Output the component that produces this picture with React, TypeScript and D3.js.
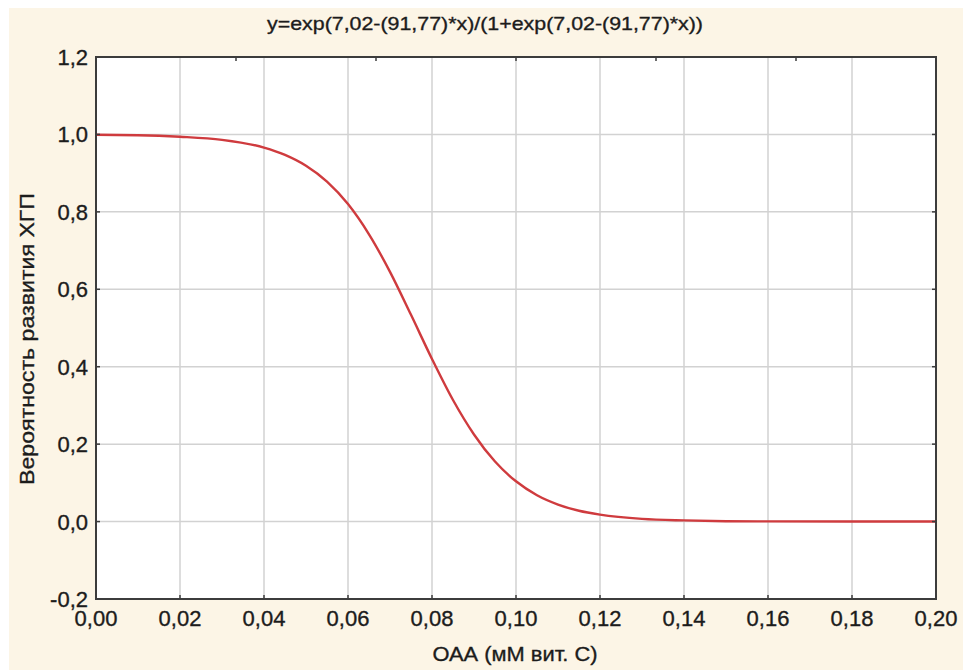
import React from "react";
import * as d3 from "d3";

// Probability curve samples (x = OAA, y = probability)
const xValues = [
  0, 0.01, 0.02, 0.03, 0.04, 0.045, 0.05, 0.055, 0.06, 0.065, 0.07, 0.075,
  0.08, 0.085, 0.09, 0.095, 0.1, 0.105, 0.11, 0.115, 0.12, 0.13, 0.14, 0.15,
  0.16, 0.18, 0.2,
];
const yValues = [
  0.999, 0.998, 0.994, 0.986, 0.966, 0.947, 0.919, 0.878, 0.82, 0.742, 0.645,
  0.534, 0.42, 0.314, 0.225, 0.155, 0.104, 0.068, 0.044, 0.028, 0.018, 0.007,
  0.003, 0.001, 0.0005, 0.0001, 0,
];

const xTicks = [0, 0.02, 0.04, 0.06, 0.08, 0.1, 0.12, 0.14, 0.16, 0.18, 0.2];
const yTicks = [-0.2, 0, 0.2, 0.4, 0.6, 0.8, 1.0, 1.2];
const topTicks = [1 / 30, 2 / 30, 3 / 30, 4 / 30, 5 / 30];

const titleText = "y=exp(7,02-(91,77)*x)/(1+exp(7,02-(91,77)*x))";
const xLabel = "ОАА (мМ вит. С)";
const yLabel = "Вероятность развития ХГП";

const W = 963;
const H = 671;
const plot = { left: 96, right: 936, top: 57, bottom: 599 };
const font = "'Liberation Sans', Arial, sans-serif";
const ink = "#1c1c1c";

export default function App() {
  const x = d3.scaleLinear().domain([0, 0.2]).range([plot.left, plot.right]);
  const y = d3.scaleLinear().domain([-0.2, 1.2]).range([plot.bottom, plot.top]);
  const fmtX = (v: number) => d3.format(".2f")(v).replace(".", ",");
  const fmtY = (v: number) => d3.format(".1f")(v).replace(".", ",").replace("−", "-");

  const pts = xValues.map((xv, i) => [xv, yValues[i]] as [number, number]);
  const line = d3
    .line<[number, number]>()
    .x((d) => x(d[0]))
    .y((d) => y(d[1]))
    .curve(d3.curveMonotoneX);

  const textStyle = { stroke: ink, strokeWidth: 0.35 };

  return (
    <svg
      width={W}
      height={H}
      style={{ position: "absolute", left: 0, top: 0 }}
      fontFamily={font}
    >
      <rect x={0} y={0} width={W} height={H} fill="#ffffff" />
      <rect x={9} y={8} width={W - 9} height={H - 9} fill="#fcf5e6" />

      <text
        x={485}
        y={30}
        textAnchor="middle"
        fontSize={19}
        fill={ink}
        style={textStyle}
        textLength={436}
        lengthAdjust="spacingAndGlyphs"
      >
        {titleText}
      </text>

      <rect
        x={plot.left}
        y={plot.top}
        width={plot.right - plot.left}
        height={plot.bottom - plot.top}
        fill="#ffffff"
      />

      {/* grid */}
      {xTicks.slice(1, -1).map((t) => (
        <line
          key={"gx" + t}
          x1={x(t)}
          x2={x(t)}
          y1={plot.top}
          y2={plot.bottom}
          stroke="#d2d2d2"
          strokeWidth={1.5}
        />
      ))}
      {yTicks.slice(1, -1).map((t) => (
        <line
          key={"gy" + t}
          x1={plot.left}
          x2={plot.right}
          y1={y(t)}
          y2={y(t)}
          stroke="#d2d2d2"
          strokeWidth={1.5}
        />
      ))}

      {/* curve */}
      <path d={line(pts) || ""} fill="none" stroke="#cf3b3e" strokeWidth={2.4} />

      {/* frame */}
      <rect
        x={plot.left}
        y={plot.top}
        width={plot.right - plot.left}
        height={plot.bottom - plot.top}
        fill="none"
        stroke="#3c3c3c"
        strokeWidth={2}
      />

      {/* tick marks */}
      {xTicks.map((t) => (
        <line
          key={"tx" + t}
          x1={x(t)}
          x2={x(t)}
          y1={plot.bottom}
          y2={plot.bottom - 4}
          stroke="#3c3c3c"
          strokeWidth={1.5}
        />
      ))}
      {topTicks.map((t) => (
        <line
          key={"tt" + t}
          x1={x(t)}
          x2={x(t)}
          y1={plot.top}
          y2={plot.top + 4}
          stroke="#3c3c3c"
          strokeWidth={1.5}
        />
      ))}
      {yTicks.map((t) => (
        <g key={"ty" + t}>
          <line
            x1={plot.left}
            x2={plot.left + 4}
            y1={y(t)}
            y2={y(t)}
            stroke="#3c3c3c"
            strokeWidth={1.5}
          />
          <line
            x1={plot.right}
            x2={plot.right - 4}
            y1={y(t)}
            y2={y(t)}
            stroke="#3c3c3c"
            strokeWidth={1.5}
          />
        </g>
      ))}

      {/* tick labels */}
      {xTicks.map((t) => (
        <text
          key={"lx" + t}
          x={x(t)}
          y={626}
          textAnchor="middle"
          fontSize={22}
          fill={ink}
          style={textStyle}
        >
          {fmtX(t)}
        </text>
      ))}
      {yTicks.map((t) => (
        <text
          key={"ly" + t}
          x={88}
          y={y(t) + 8}
          textAnchor="end"
          fontSize={22}
          fill={ink}
          style={textStyle}
        >
          {fmtY(t)}
        </text>
      ))}

      {/* axis titles */}
      <text
        x={515}
        y={661}
        textAnchor="middle"
        fontSize={21}
        fill={ink}
        style={textStyle}
        textLength={165}
        lengthAdjust="spacingAndGlyphs"
      >
        {xLabel}
      </text>
      <text
        transform={`translate(34, 339) rotate(-90)`}
        textAnchor="middle"
        fontSize={21}
        fill={ink}
        style={textStyle}
        textLength={292}
        lengthAdjust="spacingAndGlyphs"
      >
        {yLabel}
      </text>
    </svg>
  );
}
